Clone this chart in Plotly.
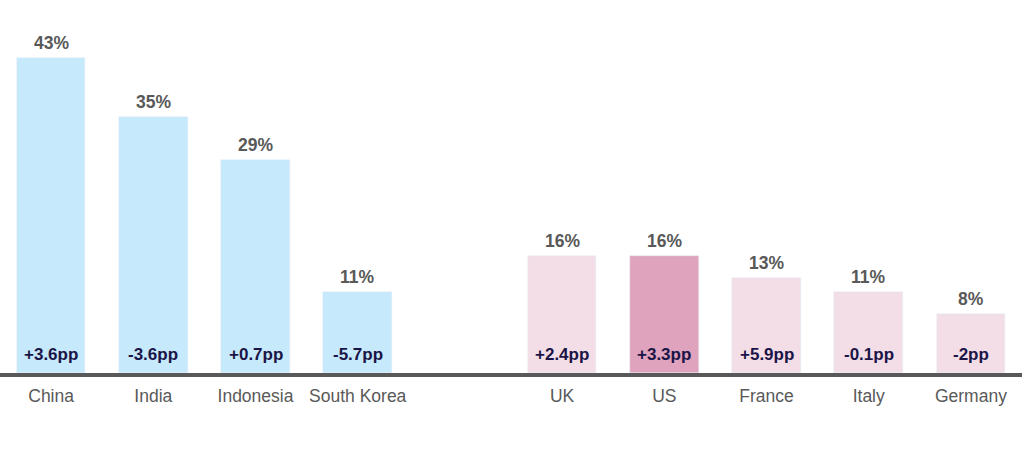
import plotly.graph_objects as go

countries = ["China", "India", "Indonesia", "South Korea", " ", "UK", "US", "France", "Italy", "Germany"]
shares = [43, 35, 29, 11, None, 16, 16, 13, 11, 8]
changes = ["+3.6pp", "-3.6pp", "+0.7pp", "-5.7pp", "", "+2.4pp", "+3.3pp", "+5.9pp", "-0.1pp", "-2pp"]
colors = ["#C6E9FB"] * 4 + ["#FFFFFF"] + ["#F3DEE7", "#E0A3BD", "#F3DEE7", "#F3DEE7", "#F3DEE7"]

fig = go.Figure()
fig.add_trace(go.Bar(
    x=countries, y=shares, marker_color=colors, width=0.67,
    hoverinfo="skip",
))

for c, s, ch in zip(countries, shares, changes):
    if s is None:
        continue
    fig.add_annotation(x=c, y=s, text=f"<b>{s}%</b>", showarrow=False,
                       yanchor="bottom", yshift=3,
                       font=dict(size=17.5, color="#595959"))
    fig.add_annotation(x=c, y=0, text=f"<b>{ch}</b>", showarrow=False,
                       yanchor="bottom", yshift=7,
                       font=dict(size=17, color="#1B1447"))

fig.update_layout(
    width=1022, height=451,
    margin=dict(l=0, r=0, t=0, b=78),
    plot_bgcolor="white", paper_bgcolor="white",
    showlegend=False, bargap=0,
    font=dict(family="Liberation Sans, Arial, sans-serif"),
    xaxis=dict(showgrid=False, showline=True, linecolor="#595959", linewidth=4,
               ticks="outside", ticklen=4, tickcolor="rgba(0,0,0,0)",
               tickfont=dict(size=17.5, color="#595959"),
               range=[-0.5, 9.5], automargin=False),
    yaxis=dict(visible=False, range=[0, 50.9], automargin=False),
)

fig.write_html("out.html", config={"displayModeBar": False},
               post_script="document.body.style.margin='0';")
